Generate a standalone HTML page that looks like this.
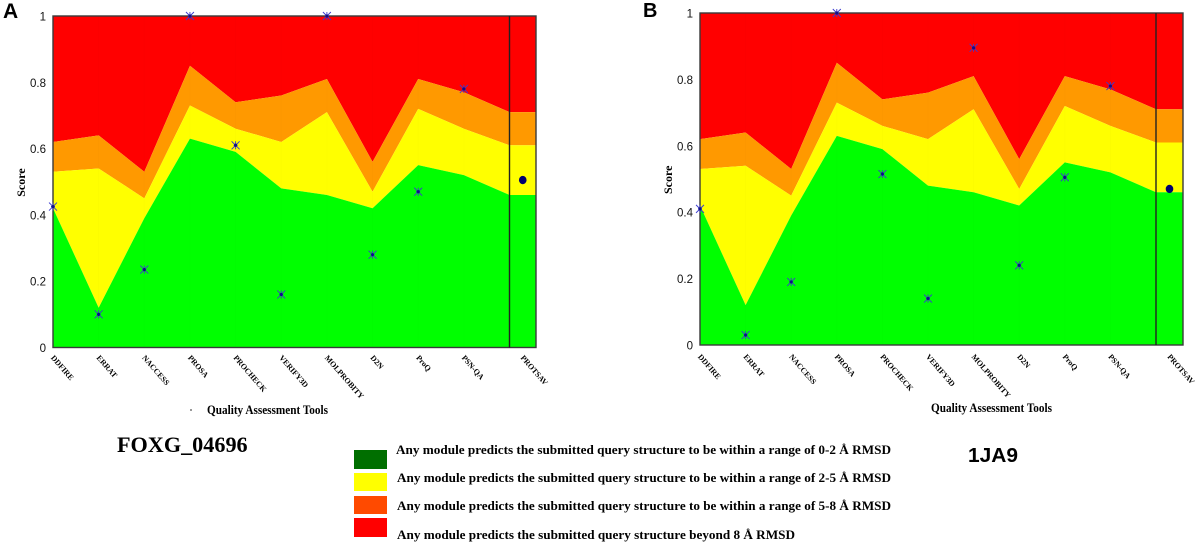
<!DOCTYPE html>
<html lang="en">
<head>
<meta charset="utf-8">
<title>Quality Assessment Scores</title>
<style>
html,body{margin:0;padding:0;background:#fff;}
body{width:1200px;height:544px;overflow:hidden;position:relative;}
svg{display:block;position:absolute;left:0;top:0;}
.serif{font-family:"Liberation Serif",serif;font-weight:bold;fill:#000;}
.sans{font-family:"Liberation Sans",sans-serif;fill:#111;}
</style>
</head>
<body>
<svg id="fig" width="1200" height="544" viewBox="0 0 1200 544" xmlns="http://www.w3.org/2000/svg">
  <text x="3" y="18" class="sans" font-size="21" font-weight="bold" style="fill:#000">A</text>
  <text x="643" y="17" class="sans" font-size="20" font-weight="bold" style="fill:#000">B</text>
  <text x="117" y="452" class="serif" font-size="22.2">FOXG_04696</text>
  <text x="968" y="462" class="sans" font-size="20" font-weight="bold" textLength="50" lengthAdjust="spacingAndGlyphs" style="fill:#000">1JA9</text>
  <g>
    <rect x="354" y="450" width="33" height="19" fill="#006f00"></rect>
    <rect x="354" y="473" width="33" height="18" fill="#ffff00"></rect>
    <rect x="354" y="496" width="33" height="18" fill="#ff4a00"></rect>
    <rect x="354" y="518" width="33" height="19" fill="#ff0000"></rect>
    <text x="396" y="454" class="serif" font-size="13" textLength="495" lengthAdjust="spacingAndGlyphs">Any module predicts the submitted query structure to be within a range of 0-2 Å RMSD</text>
    <text x="397" y="482" class="serif" font-size="13" textLength="494" lengthAdjust="spacingAndGlyphs">Any module predicts the submitted query structure to be within a range of 2-5 Å RMSD</text>
    <text x="397" y="510" class="serif" font-size="13" textLength="494" lengthAdjust="spacingAndGlyphs">Any module predicts the submitted query structure to be within a range of 5-8 Å RMSD</text>
    <text x="397" y="539" class="serif" font-size="13" textLength="398" lengthAdjust="spacingAndGlyphs">Any module predicts the submitted query structure beyond 8 Å RMSD</text>
  </g>
  <rect x="190" y="409" width="2" height="2" fill="#999"></rect>
</svg>
<script>
const categories = ["DDFIRE","ERRAT","NACCESS","PROSA","PROCHECK","VERIFY3D","MOLPROBITY","D2N","ProQ","PSN-QA","PROTSAV"];
const greenUpper = [0.42,0.12,0.39,0.63,0.59,0.48,0.46,0.42,0.55,0.52,0.46];
const yellowUpper = [0.53,0.54,0.45,0.73,0.66,0.62,0.71,0.47,0.72,0.66,0.61];
const orangeUpper = [0.62,0.64,0.53,0.85,0.74,0.76,0.81,0.56,0.81,0.77,0.71];
const redUpper = [1,1,1,1,1,1,1,1,1,1,1];
const scoresA = [0.425,0.10,0.235,1,0.61,0.16,1,0.28,0.47,0.78,0.505];
const scoresB = [0.41,0.03,0.19,1,0.515,0.14,0.895,0.24,0.505,0.78,0.47];
const yTicks = [0,0.2,0.4,0.6,0.8,1];
const yTickLabels = ["0","0.2","0.4","0.6","0.8","1"];

const NS = "http://www.w3.org/2000/svg";
const fig = document.getElementById("fig");

function make(tag, parent) {
  const el = document.createElementNS(NS, tag);
  parent.appendChild(el);
  return el;
}

function drawPanel(id, scores, box) {
  const last = categories.length - 1;
  const step = (box.split - box.left) / last;
  const xAt = function (i) { return box.left + i * step; };
  const yAt = function (v) { return box.bottom - v * (box.bottom - box.top); };
  const markX = function (i) { return i === last ? (box.split + box.right) / 2 : xAt(i); };

  const g = make("g", fig);
  
  

  const bands = [
    { name: "red-band", upper: redUpper, lower: orangeUpper, color: "#ff0000" },
    { name: "orange-band", upper: orangeUpper, lower: yellowUpper, color: "#ff9900" },
    { name: "yellow-band", upper: yellowUpper, lower: greenUpper, color: "#ffff00" },
    { name: "green-band", upper: greenUpper, lower: null, color: "#00ff00" }
  ];
  bands.forEach(function (band) {
    const pts = [];
    band.upper.forEach(function (v, i) { pts.push(xAt(i) + "," + yAt(v)); });
    pts.push(box.right + "," + yAt(band.upper[last]));
    if (band.lower) {
      pts.push(box.right + "," + yAt(band.lower[last]));
      for (let i = last; i >= 0; i--) { pts.push(xAt(i) + "," + yAt(band.lower[i])); }
    } else {
      pts.push(box.right + "," + yAt(0));
      pts.push(xAt(0) + "," + yAt(0));
    }
    const poly = make("polygon", g);
    poly.setAttribute("points", pts.join(" "));
    poly.setAttribute("fill", band.color);
    
    
  });

  for (let i = 1; i < last; i++) {
    const grid = make("line", g);
    grid.setAttribute("x1", xAt(i));
    grid.setAttribute("x2", xAt(i));
    grid.setAttribute("y1", yAt(1));
    grid.setAttribute("y2", yAt(0));
    grid.setAttribute("stroke", "#000");
    grid.setAttribute("stroke-opacity", "0.012");
    
    
  }

  const frame = make("rect", g);
  frame.setAttribute("x", box.left);
  frame.setAttribute("y", box.top);
  frame.setAttribute("width", box.right - box.left);
  frame.setAttribute("height", box.bottom - box.top);
  frame.setAttribute("fill", "none");
  frame.setAttribute("stroke", "#3a3a3a");
  frame.setAttribute("stroke-width", "1.4");
  
  

  const divider = make("line", g);
  divider.setAttribute("x1", box.split);
  divider.setAttribute("x2", box.split);
  divider.setAttribute("y1", box.top);
  divider.setAttribute("y2", box.bottom);
  divider.setAttribute("stroke", "#222");
  divider.setAttribute("stroke-width", "1.4");
  
  

  yTicks.forEach(function (v, i) {
    const t = make("text", g);
    t.setAttribute("x", box.left - 7);
    t.setAttribute("y", yAt(v) + 4.5);
    t.setAttribute("text-anchor", "end");
    t.setAttribute("class", "sans");
    t.setAttribute("font-size", "11.5");
    t.textContent = yTickLabels[i];
    
    
  });

  const yTitle = make("text", g);
  yTitle.setAttribute("transform", "translate(" + (box.left - 28) + " " + (yAt(0.5) + 15) + ") rotate(-90)");
  yTitle.setAttribute("class", "serif");
  yTitle.setAttribute("font-size", "12");
  yTitle.textContent = "Score";
  
  

  const clip = make("clipPath", g);
  clip.setAttribute("id", id + "-label-clip");
  const clipRect = make("rect", clip);
  clipRect.setAttribute("x", box.left - 20);
  clipRect.setAttribute("y", box.bottom);
  clipRect.setAttribute("width", box.right - box.left + 60);
  clipRect.setAttribute("height", 400 - box.bottom);

  const labels = make("g", g);
  labels.setAttribute("clip-path", "url(#" + id + "-label-clip)");
  
  
  categories.forEach(function (name, i) {
    const t = make("text", labels);
    const lx = markX(i) - 2.5;
    const ly = box.labelY;
    t.setAttribute("transform", "translate(" + lx + " " + ly + ") rotate(49)");
    t.setAttribute("class", "serif");
    t.setAttribute("font-size", "7.9");
    t.textContent = name;
    
    
  });

  const xTitle = make("text", g);
  xTitle.setAttribute("x", box.titleX);
  xTitle.setAttribute("y", box.titleY);
  xTitle.setAttribute("class", "serif");
  xTitle.setAttribute("font-size", "12.6");
  xTitle.setAttribute("textLength", "121");
  xTitle.setAttribute("lengthAdjust", "spacingAndGlyphs");
  xTitle.textContent = "Quality Assessment Tools";
  
  

  scores.forEach(function (v, i) {
    const cx = markX(i);
    const cy = yAt(v);
    if (i === last) {
      const dot = make("ellipse", g);
      dot.setAttribute("cx", cx);
      dot.setAttribute("cy", cy);
      dot.setAttribute("rx", 3.8);
      dot.setAttribute("ry", 4.2);
      dot.setAttribute("fill", "#00006e");
      
      
    } else {
      const star = make("path", g);
      const r = 4;
      star.setAttribute("d",
        "M" + (cx - r) + " " + (cy - r) + "L" + (cx + r) + " " + (cy + r) +
        "M" + (cx - r) + " " + (cy + r) + "L" + (cx + r) + " " + (cy - r) +
        "M" + cx + " " + (cy - r) + "L" + cx + " " + (cy + r) +
        "M" + (cx - 2) + " " + cy + "L" + (cx + 2) + " " + cy);
      star.setAttribute("stroke", "#3a3ad0");
      star.setAttribute("stroke-width", "0.9");
      star.setAttribute("fill", "none");
      
      
      const core = make("circle", g);
      core.setAttribute("cx", cx);
      core.setAttribute("cy", cy);
      core.setAttribute("r", 1.6);
      core.setAttribute("fill", "#10108a");
      
      
    }
  });
}

drawPanel("panel-a", scoresA, { left: 53, split: 509.5, right: 536, top: 16, bottom: 347.5, labelY: 358, titleX: 207, titleY: 414 });
drawPanel("panel-b", scoresB, { left: 700, split: 1156, right: 1183, top: 13, bottom: 345, labelY: 357, titleX: 931, titleY: 412 });
</script>
</body>
</html>
